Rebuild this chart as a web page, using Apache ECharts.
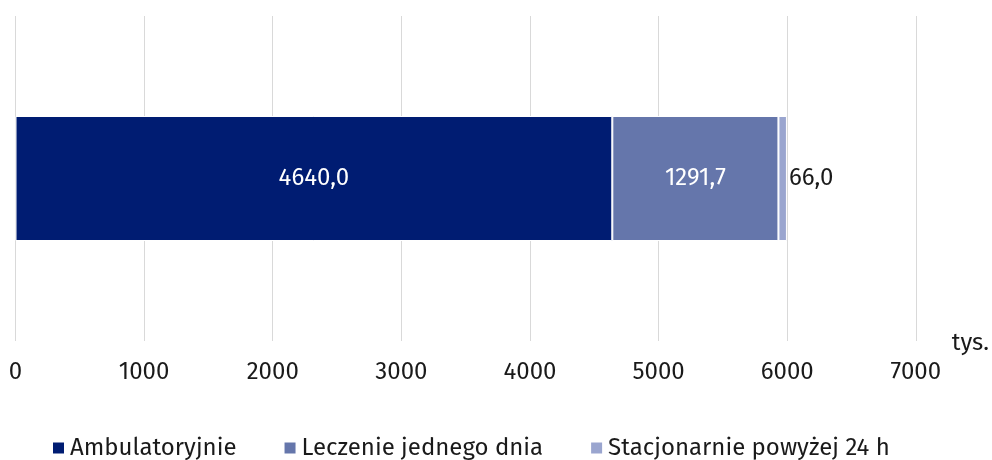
<!DOCTYPE html>
<html>
<head>
<meta charset="utf-8">
<script src="https://cdn.jsdelivr.net/npm/echarts@6/dist/echarts.min.js"></script>
<style>
  html, body { margin: 0; padding: 0; background: #fff; }
  #chart { width: 992px; height: 460px; }
</style>
</head>
<body>
<div id="chart"></div>
<script>
  var categories = ['2023'];
  var seriesNames = ['Ambulatoryjnie', 'Leczenie jednego dnia', 'Stacjonarnie powyżej 24 h'];
  var ambulatoryjnie = [4640.0];
  var jednegoDnia = [1291.7];
  var stacjonarnie = [66.0];
  var colors = ['#001c72', '#6576ab', '#9aa5cf'];

  var font = '"Fira Sans", "Open Sans", "Noto Sans", sans-serif';
  function fmt(v) { return v.toFixed(1).replace('.', ','); }

  var myChart = echarts.init(document.getElementById('chart'));
  var option = {
    backgroundColor: '#fff',
    animation: false,
    color: colors,
    grid: {
      left: 15.5,
      right: 76,
      top: 16,
      bottom: 119,
      containLabel: false
    },
    legend: {
      bottom: -5,
      left: 46,
      itemWidth: 13,
      itemHeight: 13,
      itemGap: 46,
      icon: 'rect',
      textStyle: { fontFamily: font, fontSize: 24, color: '#1a1a1a' },
      data: seriesNames
    },
    xAxis: {
      type: 'value',
      min: 0,
      max: 7000,
      interval: 1000,
      name: 'tys.',
      nameLocation: 'end',
      nameGap: 36,
      nameTextStyle: { fontFamily: font, fontSize: 24, color: '#1a1a1a', verticalAlign: 'top', padding: [-10, 0, 0, 0] },
      axisLine: { show: false },
      axisTick: { show: false },
      axisLabel: {
        fontFamily: font, fontSize: 24, color: '#1a1a1a', margin: 19,
        formatter: function (v) { return String(v); }
      },
      splitLine: { lineStyle: { color: '#d9d9d9', width: 1 } }
    },
    yAxis: {
      type: 'category',
      data: categories,
      show: false
    },
    series: [{
      name: seriesNames[0],
      type: 'bar',
      stack: 'total',
      barWidth: 125,
      itemStyle: { borderColor: '#fff', borderWidth: 1 },
      label: { show: true, position: 'inside', color: '#fff', fontFamily: font, fontSize: 24, formatter: function (p) { return fmt(p.value); } },
      data: ambulatoryjnie
    }, {
      name: seriesNames[1],
      type: 'bar',
      stack: 'total',
      itemStyle: { borderColor: '#fff', borderWidth: 1 },
      label: { show: true, position: 'inside', color: '#fff', fontFamily: font, fontSize: 24, formatter: function (p) { return fmt(p.value); } },
      data: jednegoDnia
    }, {
      name: seriesNames[2],
      type: 'bar',
      stack: 'total',
      itemStyle: { borderColor: '#fff', borderWidth: 1 },
      label: { show: true, position: 'right', distance: 2, color: '#1a1a1a', fontFamily: font, fontSize: 24, formatter: function (p) { return fmt(p.value); } },
      data: stacjonarnie
    }]
  };
  myChart.setOption(option);
</script>
</body>
</html>
